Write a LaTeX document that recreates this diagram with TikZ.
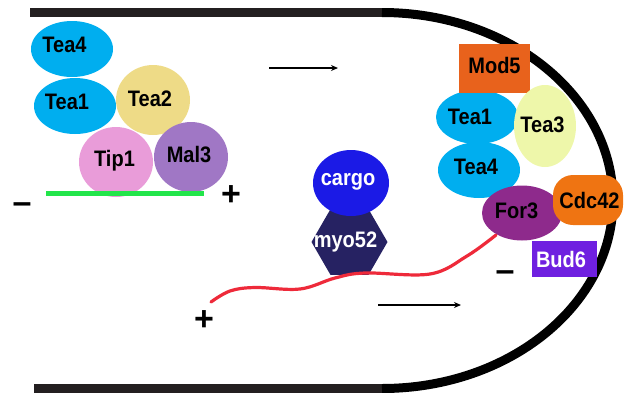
\documentclass[tikz,border=0pt]{standalone}
\usepackage{fontspec}
\usepackage{graphicx}
\setmainfont{Liberation Sans}
\usetikzlibrary{shapes.geometric,arrows.meta}

\definecolor{teablue}{HTML}{00AEEF}
\definecolor{teatwo}{HTML}{EEDB87}
\definecolor{tipone}{HTML}{E99CD9}
\definecolor{malthree}{HTML}{A077C5}
\definecolor{mtgreen}{HTML}{22E54A}
\definecolor{modfive}{HTML}{E8621C}
\definecolor{teathree}{HTML}{EEF7AA}
\definecolor{forthree}{HTML}{8E2A8C}
\definecolor{cdcorange}{HTML}{EF7412}
\definecolor{budsix}{HTML}{6F20E0}
\definecolor{cargoblue}{HTML}{1B1AE6}
\definecolor{myonavy}{HTML}{262262}
\definecolor{actinred}{HTML}{EE2A3A}
\definecolor{wallgray}{HTML}{231F20}

\newcommand\protfont{\fontsize{20}{24}\selectfont\bfseries}
\newcommand\protname[1]{\scalebox{1}[1.12]{#1}}
\newcommand\signfont{\fontsize{34}{40}\selectfont\bfseries}

\begin{document}
\begin{tikzpicture}[x=1pt,y=-1pt,
  blob/.style={ellipse,inner sep=0pt,draw=none},
  slab/.style={rectangle,inner sep=0pt,draw=none},
  tag/.style n args={3}{label={[shift={(#1,#2)},font=\protfont,text=black]center:\protname{#3}}},
  wtag/.style n args={3}{label={[shift={(#1,#2)},font=\protfont,text=white]center:\protname{#3}}},
  sign/.style={font=\signfont,inner sep=0pt},
  flow/.style={line width=1.3pt,-{Stealth[length=7pt,width=6pt]}},
  filament/.style={actinred,line width=3.2pt,line cap=round},
  wall/.style={line width=9pt}]

\useasboundingbox (0,0) rectangle (627,392);

% cell wall: straight sides and the rounded tip
\draw[wall,wallgray] (30,12.5) -- (382,12.5);
\draw[wall,wallgray] (34,388.5) -- (382,388.5);
\draw[wall,black] (382,12.5) arc[start angle=90,end angle=-90,x radius=231pt,y radius=188pt];

% microtubule plus-end complex
\node[blob,fill=teablue,minimum width=82pt,minimum height=56pt,tag={-7.5}{-4}{Tea4}] (tea4l) at (72,49) {};
\node[blob,fill=teablue,minimum width=82pt,minimum height=56pt,tag={-8}{-4.5}{Tea1}] (tea1l) at (75,106) {};
\node[blob,fill=teatwo,minimum width=74pt,minimum height=70pt,tag={-3}{-1.5}{Tea2}] (tea2) at (153,100) {};
\node[blob,fill=tipone,minimum width=74pt,minimum height=70pt,tag={-1.5}{-1}{Tip1}] (tip1) at (116,162) {};
\node[blob,fill=malthree,minimum width=74pt,minimum height=70pt,tag={-2}{-2}{Mal3}] (mal3) at (191,157) {};
\coordinate (mta) at (46,193);
\coordinate (mtb) at (204,193);
\draw[mtgreen,line width=5pt] (mta) -- (mtb);

% polarity complex at the cell tip
\node[blob,fill=teablue,minimum width=82pt,minimum height=54pt,tag={-7}{0}{Tea1}] (tea1r) at (477,117) {};
\node[blob,fill=teablue,minimum width=82pt,minimum height=56pt,tag={-3}{-3.5}{Tea4}] (tea4r) at (479,170) {};
\node[slab,fill=modfive,minimum width=71pt,minimum height=49pt,tag={0}{-3.5}{Mod5}] (mod5) at (494.5,68.5) {};
\node[blob,fill=teathree,minimum width=62pt,minimum height=82pt,tag={-2.5}{-1}{Tea3}] (tea3) at (545,126) {};
\node[blob,fill=forthree,minimum width=80pt,minimum height=55pt,tag={-5.5}{-2.5}{For3}] (for3) at (522,213) {};
\node[slab,fill=cdcorange,rounded corners=20pt,minimum width=70pt,minimum height=50pt,tag={1.5}{0}{Cdc42}] (cdc42) at (588,200) {};
\node[slab,fill=budsix,minimum width=65pt,minimum height=36pt,wtag={-3.5}{0}{Bud6}] (bud6) at (564.5,259) {};

% myosin carrying its cargo
\node[regular polygon,regular polygon sides=6,inner sep=0pt,minimum size=76pt,fill=myonavy,wtag={-4}{0}{myo52}] (myo52) at (349.5,242) {};
\node[blob,fill=cargoblue,minimum width=76pt,minimum height=66pt,wtag={-3}{-1}{cargo}] (cargo) at (351,183) {};

% actin cable growing from For3
\coordinate (actinend) at (211,302);
\draw[filament] plot[smooth,tension=0.6] coordinates {(211,302) (230,291) (255,287.5) (300,289) (335,278) (365,273) (430,274) (467,256) (496,235)};

% polarity signs
\node[sign] (minusl) at (22,208) {–};
\node[sign] (plusl) at (231,196) {+};
\node[sign] (plusa) at (204,321) {+};
\node[sign] (minusr) at (505,276) {–};

% transport directions
\coordinate (topa) at (269,68);
\coordinate (topb) at (338,68);
\draw[flow] (topa) -- (topb);
\coordinate (bota) at (378,305);
\coordinate (botb) at (461,305);
\draw[flow] (bota) -- (botb);

\end{tikzpicture}
\end{document}
